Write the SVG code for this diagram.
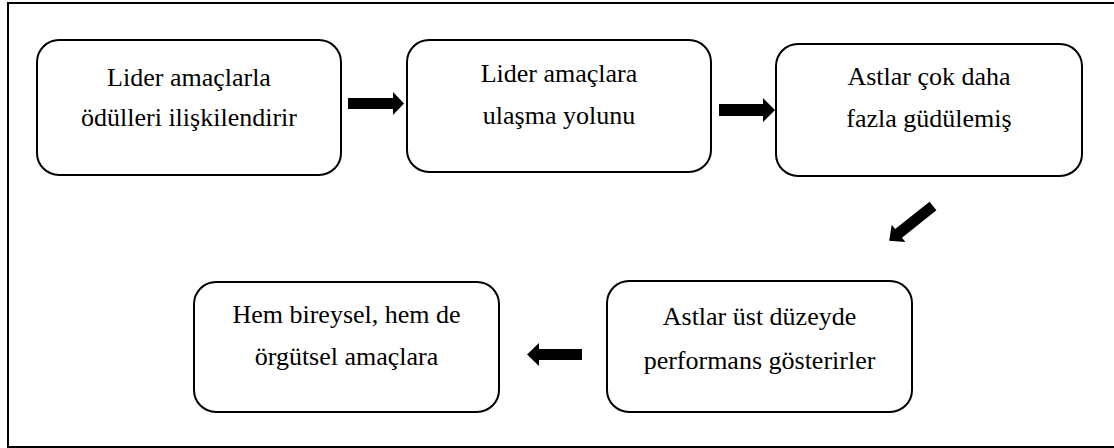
<svg xmlns="http://www.w3.org/2000/svg" width="1114" height="448" viewBox="0 0 1114 448">
<style>
.box{fill:#fff;stroke:#000;stroke-width:2}
.t{font-family:"Liberation Serif","Times New Roman",serif;font-size:26px;fill:#000;text-anchor:middle}
.arr{fill:#000}
</style>
<rect x="0" y="0" width="1114" height="448" fill="#fff"/>
<rect x="8" y="3" width="1112" height="444" fill="none" stroke="#000" stroke-width="2"/>
<g id="n1"><rect class="box" x="37" y="40" width="304" height="135" rx="22"/>
<text class="t" x="189" y="86">Lider amaçlarla</text><text class="t" x="189" y="126">ödülleri ilişkilendirir</text></g>
<g id="n2"><rect class="box" x="407" y="40" width="304" height="132" rx="22"/>
<text class="t" x="559" y="82">Lider amaçlara</text><text class="t" x="559" y="124">ulaşma yolunu</text></g>
<g id="n3"><rect class="box" x="776" y="44" width="306" height="132" rx="22"/>
<text class="t" x="929" y="85">Astlar çok daha</text><text class="t" x="929" y="127">fazla güdülemiş</text></g>
<g id="n4"><rect class="box" x="194" y="282" width="305" height="130" rx="22"/>
<text class="t" x="346.5" y="323">Hem bireysel, hem de</text><text class="t" x="346.5" y="365">örgütsel amaçlara</text></g>
<g id="n5"><rect class="box" x="607" y="281" width="305" height="131" rx="22"/>
<text class="t" x="759.5" y="325">Astlar üst düzeyde</text><text class="t" x="759.5" y="369">performans gösterirler</text></g>
<g id="connectors">
<polygon class="arr" points="348,98 393,98 393,92 404,103.5 393,115 393,109 348,109"/>
<polygon class="arr" points="719,104 763,104 763,98 775,110 763,122 763,116 719,116"/>
<polygon class="arr" points="582,349 539,349 539,343 527,354.5 539,366 539,360 582,360"/>
<polygon class="arr" transform="translate(933,206) rotate(141.5)" points="0,-5.5 44,-5.5 44,-11 56,0 44,11 44,5.5 0,5.5"/>
</g>
</svg>
